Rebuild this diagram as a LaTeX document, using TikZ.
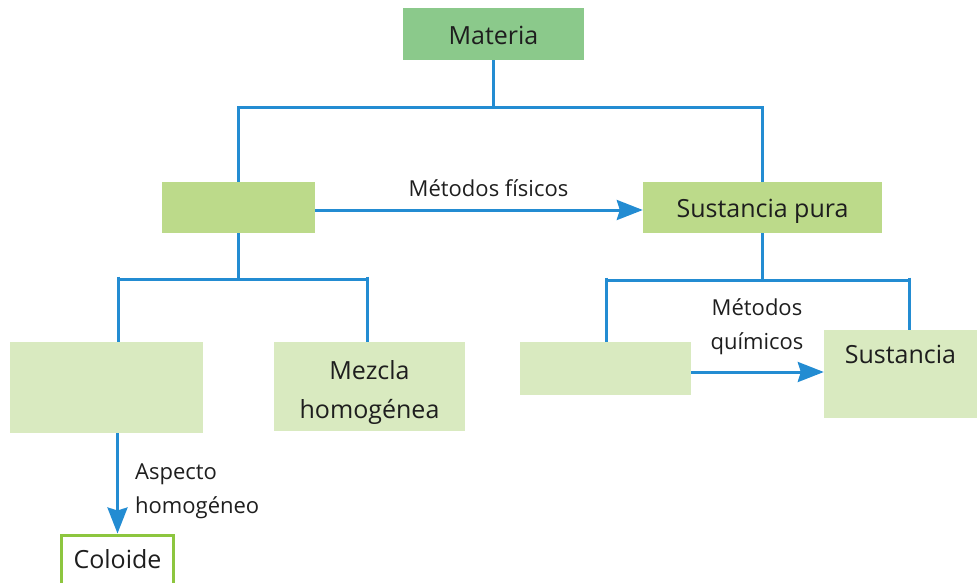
\documentclass[tikz,border=0pt]{standalone}
\usepackage{fontspec}
\setmainfont{Open Sans}
\usetikzlibrary{arrows.meta}
\definecolor{blueline}{RGB}{35,140,210}
\definecolor{gmat}{RGB}{139,201,139}
\definecolor{gmid}{RGB}{188,218,138}
\definecolor{glight}{RGB}{217,234,192}
\definecolor{gborder}{RGB}{141,198,63}
\definecolor{txt}{RGB}{30,30,30}
\begin{document}
\begin{tikzpicture}[x=1pt,y=-1pt,
  box/.style={draw=none, inner sep=0pt, text=txt, font=\fontsize{25}{39}\selectfont, align=center},
  one/.style={text height=20pt, text depth=0pt},
  conn/.style={draw=blueline, line width=3pt},
  arr/.style={conn, -{Stealth[length=26pt,width=20pt,inset=3pt]}},
  lbl/.style={text=txt, font=\fontsize{22}{34}\selectfont, inner sep=0pt}]
\useasboundingbox (0,0) rectangle (979,582);
\clip (0,0) rectangle (979,582);
% boxes
\node[box, one, fill=gmat, minimum width=181pt, minimum height=52pt] (mat) at (493.5,34) {Materia};
\node[box, fill=gmid, minimum width=153pt, minimum height=51pt] (mez) at (238.5,207.5) {};
\node[box, one, fill=gmid, minimum width=239pt, minimum height=51pt] (sp) at (762.5,207.5) {Sustancia pura};
\node[box, fill=glight, minimum width=193pt, minimum height=91pt] (het) at (106.5,387.5) {};
\node[box, fill=glight, minimum width=191pt, minimum height=89pt] (hom) at (369.5,386.5) {};
\node[box, anchor=north] (homt) at (369.5,360) {Mezcla\\homogénea};
\node[box, fill=glight, minimum width=171pt, minimum height=53pt] (emp) at (605.5,368.5) {};
\node[box, fill=glight, minimum width=153pt, minimum height=88pt] (sus) at (900.5,374) {};
\node[box, anchor=base] (sust) at (900.5,363.5) {Sustancia};
\node[box, draw=gborder, line width=3pt, fill=white, minimum width=112pt, minimum height=54pt,
      text height=20pt, text depth=7pt, anchor=north] (col) at (117.5,533.5) {Coloide};
% top tree
\coordinate (b1) at (493.5,107);
\draw[conn] (mat.south) -- (b1);
\draw[conn] (mez.north) -- (mez.north |- b1) -- (sp.north |- b1) -- (sp.north);
% left tree
\coordinate (b2) at (0,279);
\coordinate (bl) at (118,276.5);
\coordinate (br) at (367,276.5);
\draw[conn] (mez.south) -- (mez.south |- b2);
\draw[conn] (bl |- b2) -- (br |- b2);
\draw[conn] (bl) -- (het.north -| bl);
\draw[conn] (br) -- (hom.north -| br);
% right tree
\coordinate (b3) at (0,280);
\coordinate (bl2) at (606,277.5);
\coordinate (br2) at (909,277.5);
\draw[conn] (sp.south) -- (sp.south |- b3);
\draw[conn] (bl2 |- b3) -- (br2 |- b3);
\draw[conn] (bl2) -- (emp.north -| bl2);
\draw[conn] (br2) -- (sus.north -| br2);
% arrows
\draw[arr] ([yshift=-2.5pt]mez.east) -- ([yshift=-2.5pt]sp.west);
\node[lbl, anchor=base] (lf) at (488.5,196) {Métodos físicos};
\draw[arr] ([yshift=-3.5pt]emp.east) -- ([yshift=-3.5pt]emp.east -| sus.west);
\node[lbl, align=center, anchor=north] (lq) at (757,298) {Métodos\\químicos};
\draw[arr] (het.south -| col.north) -- (col.north);
\node[lbl, align=left, anchor=north west] (la) at (135,464) {Aspecto\\homogéneo};
\end{tikzpicture}
\end{document}
